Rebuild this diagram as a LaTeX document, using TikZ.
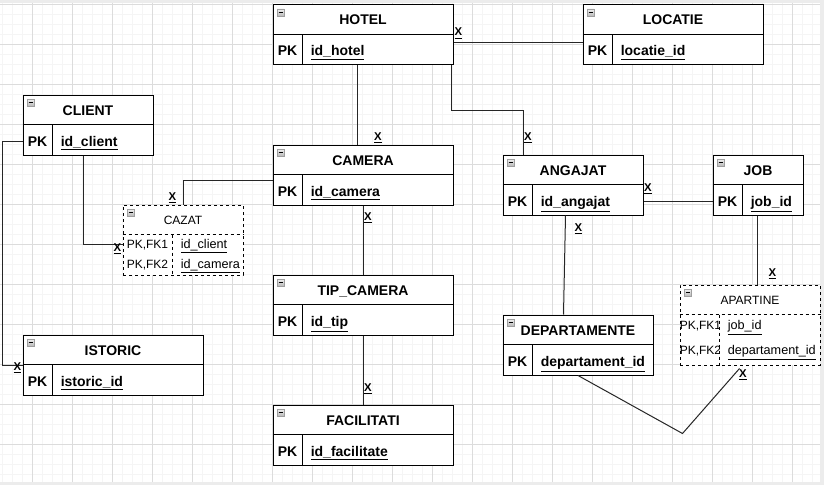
\documentclass[tikz,border=0pt]{standalone}
\usepackage{fontspec}
\setmainfont{Liberation Sans}
\newdimen\PX \PX=0.75pt
\definecolor{gridmaj}{RGB}{220,220,220}
\definecolor{gridmin}{RGB}{245,245,245}
\definecolor{outside}{RGB}{236,236,236}
\tikzset{
 tbl/.style={rectangle, draw=black, line width=0.75pt, fill=white, anchor=north west, inner sep=0pt},
 dtbl/.style={tbl, dash pattern=on 2.25pt off 2.25pt},
 tline/.style={line width=0.75pt},
 dline/.style={line width=0.75pt, dash pattern=on 2.25pt off 2.25pt},
 icon/.style={rectangle, draw=gray!75, top color=gray!12, bottom color=gray!55, minimum size=7\PX, inner sep=0pt,
   path picture={\draw[black, line width=0.8pt] ([xshift=-2.2\PX]path picture bounding box.center) -- ([xshift=2.2\PX]path picture bounding box.center);}},
 hdr/.style={font=\bfseries\fontsize{10.5}{12}\selectfont, anchor=base, inner sep=0pt},
 fld/.style={font=\bfseries\fontsize{10.5}{12}\selectfont, inner sep=0pt},
 shdr/.style={font=\fontsize{9}{11}\selectfont, anchor=base, inner sep=0pt},
 sfld/.style={font=\fontsize{9}{11}\selectfont, inner sep=0pt, anchor=base west},
 sval/.style={font=\fontsize{9.5}{11}\selectfont, inner sep=0pt, anchor=base west},
 conn/.style={line width=0.75pt, black!85},
 xlab/.style={font=\bfseries\fontsize{8.5}{10}\selectfont, anchor=base, inner sep=0pt}
}
\newcommand\ertable[6]{%
 \node[tbl, minimum width=#4\PX, minimum height=60\PX] (#1) at (#2,#3) {};
 \draw[tline] ([yshift=-30\PX]#1.north west) -- ([yshift=-30\PX]#1.north east);
 \draw[tline] ([xshift=30\PX,yshift=-30\PX]#1.north west) -- ([xshift=30\PX]#1.south west);
 \node[icon] (#1-i) at ([xshift=8.2\PX,yshift=-8\PX]#1.north west) {};
 \node[hdr] (#1-t) at ([yshift=-20.5\PX]#1.north) {#5};
 \node[fld, anchor=base] (#1-pk) at ([xshift=15\PX,yshift=9.5\PX]#1.south west) {PK};
 \node[fld, anchor=base west] (#1-f) at ([xshift=38\PX,yshift=9.5\PX]#1.south west) {\underline{#6}};
}
\begin{document}
\begin{tikzpicture}[x=0.75pt,y=-0.75pt]
\useasboundingbox (0,0) rectangle (824,485);
% background and grid
\fill[outside] (0,0) rectangle (824,485);
\fill[white] (0,3) rectangle (820,482);
\begin{scope}
\clip (0,3) rectangle (820,482);
\foreach \x in {2.5,12.5,...,822.5} \draw[gridmin, line width=0.75pt] (\x,3) -- (\x,482);
\foreach \y in {4.5,14.5,...,484.5} \draw[gridmin, line width=0.75pt] (0,\y) -- (820,\y);
\foreach \x in {32.5,72.5,...,812.5} \draw[gridmaj, line width=0.75pt] (\x,3) -- (\x,482);
\foreach \y in {4.5,44.5,...,484.5} \draw[gridmaj, line width=0.75pt] (0,\y) -- (820,\y);
\end{scope}

% tables
\ertable{hotel}{272.5}{4.5}{180}{HOTEL}{id\_hotel}
\ertable{locatie}{582.5}{4.5}{180}{LOCATIE}{locatie\_id}
\ertable{client}{22.5}{94.5}{130}{CLIENT}{id\_client}
\ertable{camera}{272.5}{144.5}{180}{CAMERA}{id\_camera}
\ertable{tip}{272.5}{274.5}{180}{TIP\_CAMERA}{id\_tip}
\ertable{facilitati}{272.5}{404.5}{180}{FACILITATI}{id\_facilitate}
\ertable{istoric}{22.5}{334.5}{180}{ISTORIC}{istoric\_id}
\ertable{angajat}{502.5}{154.5}{140}{ANGAJAT}{id\_angajat}
\ertable{job}{712.5}{154.5}{90}{JOB}{job\_id}
\ertable{dep}{502.5}{314.5}{150}{DEPARTAMENTE}{departament\_id}

% CAZAT (dashed)
\node[dtbl, minimum width=120\PX, minimum height=70\PX] (cazat) at (122.5,204.5) {};
\draw[dline] ([yshift=-30\PX]cazat.north west) -- ([yshift=-30\PX]cazat.north east);
\draw[dline] ([xshift=50\PX,yshift=-30\PX]cazat.north west) -- ([xshift=50\PX]cazat.south west);
\node[icon] (cazat-i) at ([xshift=8.5\PX,yshift=-8\PX]cazat.north west) {};
\node[shdr] (cazat-t) at ([yshift=-20\PX]cazat.north) {CAZAT};
\node[sfld] (cazat-k1) at ([xshift=4\PX,yshift=-43.5\PX]cazat.north west) {PK,FK1};
\node[sfld] (cazat-k2) at ([xshift=4\PX,yshift=-63.5\PX]cazat.north west) {PK,FK2};
\node[sval] (cazat-f1) at ([xshift=58\PX,yshift=-43.5\PX]cazat.north west) {\underline{id\_client}};
\node[sval] (cazat-f2) at ([xshift=58\PX,yshift=-63.5\PX]cazat.north west) {\underline{id\_camera}};

% APARTINE (dashed)
\node[dtbl, minimum width=140\PX, minimum height=80\PX] (apartine) at (679.5,284.5) {};
\node[sfld] (apartine-k1) at ([xshift=0\PX,yshift=-45\PX]apartine.north west) {PK,FK1};
\node[sfld] (apartine-k2) at ([xshift=0\PX,yshift=-70\PX]apartine.north west) {PK,FK2};
\fill[white] ([xshift=40.4\PX,yshift=-30.4\PX]apartine.north west) rectangle ([xshift=44\PX,yshift=0.4\PX]apartine.south west);
\draw[dline] ([yshift=-30\PX]apartine.north west) -- ([yshift=-30\PX]apartine.north east);
\draw[dline] ([xshift=40\PX,yshift=-30\PX]apartine.north west) -- ([xshift=40\PX]apartine.south west);
\node[icon] (apartine-i) at ([xshift=8.5\PX,yshift=-8\PX]apartine.north west) {};
\node[shdr] (apartine-t) at ([yshift=-20\PX]apartine.north) {APARTINE};
\node[sval] (apartine-f1) at ([xshift=48\PX,yshift=-45\PX]apartine.north west) {\underline{job\_id}};
\node[sval] (apartine-f2) at ([xshift=48\PX,yshift=-70\PX]apartine.north west) {\underline{departament\_id}};

% connectors
\draw[conn] ([yshift=-8\PX]hotel.east) -- ([yshift=-8\PX]hotel.east -| locatie.west);
\draw[conn] ([xshift=-5.5\PX]hotel.south) -- ([xshift=-5.5\PX]hotel.south |- camera.north);
\draw[conn] ([xshift=-2\PX]hotel.south east) -- ++(0,45) -| ([xshift=21\PX]angajat.north west);
\draw[conn] (client.west |- client-pk) -- ++(-20,0) |- (istoric.west);
\draw[conn] ([xshift=-5\PX]client.south) |- (cazat.west |- cazat-k1);
\draw[conn] ([yshift=-5.5\PX]camera.west) -| (cazat.north);
\draw[conn] (camera.south) -- (tip.north);
\draw[conn] (tip.south) -- (facilitati.north);
\draw[conn] (angajat.east |- angajat-pk) -- (job.west |- angajat-pk);
\draw[conn] ([xshift=63\PX]angajat.south west) -- ([xshift=61\PX]dep.north west);
\draw[conn] ([xshift=-1\PX]job.south) -- ([xshift=-1\PX]job.south |- apartine.north);
\coordinate (vjoin) at (682.5,433.5);
\draw[conn] (dep.south) -- (vjoin) -- ([xshift=60\PX,yshift=-3\PX]apartine.south west);

% cardinality labels
\node[xlab] (x1) at (458.3,36) {\underline{X}};
\node[xlab] (x2) at (378,140.5) {\underline{X}};
\node[xlab] (x3) at (528,140.5) {\underline{X}};
\node[xlab] (x4) at (17.5,370) {\underline{X}};
\node[xlab] (x5) at (117.5,251.7) {\underline{X}};
\node[xlab] (x6) at (172.5,200.7) {\underline{X}};
\node[xlab] (x7) at (368,220) {\underline{X}};
\node[xlab] (x8) at (368,391.7) {\underline{X}};
\node[xlab] (x9) at (648,191.7) {\underline{X}};
\node[xlab] (x10) at (578.3,231.7) {\underline{X}};
\node[xlab] (x11) at (772.3,276.7) {\underline{X}};
\node[xlab] (x12) at (743,377.3) {\underline{X}};
\end{tikzpicture}
\end{document}
